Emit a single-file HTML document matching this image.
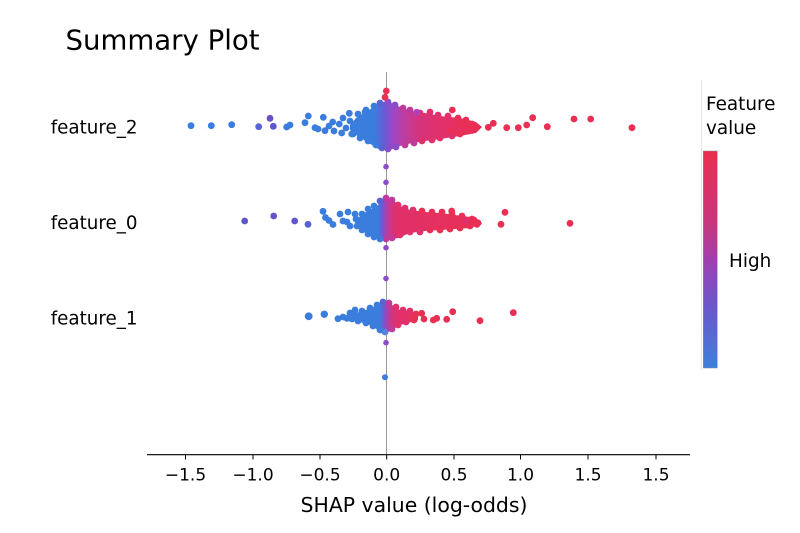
<!DOCTYPE html>
<html>
<head>
<meta charset="utf-8">
<style>
  html,body{margin:0;padding:0;background:#fff;}
  svg{display:block;}
  text{font-family:"DejaVu Sans","Liberation Sans",sans-serif;fill:#000;}
  .b{fill:#3b7ddd}
  .bp{fill:#5864d4}
  .p{fill:#8a4cc8}
  .m{fill:#c03a9c}
  .r{fill:#e0316c}
  .rr{fill:#ea2f54}
</style>
</head>
<body>
<svg width="800" height="533" viewBox="0 0 800 533" xmlns="http://www.w3.org/2000/svg">
  <defs>
    <linearGradient id="g1" gradientUnits="userSpaceOnUse" x1="330" y1="0" x2="490" y2="0">
      <stop offset="0" stop-color="#3b7ddd"/>
      <stop offset="0.28" stop-color="#3b7ddd"/>
      <stop offset="0.34" stop-color="#6a5ad6"/>
      <stop offset="0.39" stop-color="#9a48c8"/>
      <stop offset="0.45" stop-color="#b83ea8"/>
      <stop offset="0.55" stop-color="#d4347e"/>
      <stop offset="0.69" stop-color="#e2306a"/>
      <stop offset="1" stop-color="#ea2f55"/>
    </linearGradient>
    <linearGradient id="g2" gradientUnits="userSpaceOnUse" x1="355" y1="0" x2="485" y2="0">
      <stop offset="0" stop-color="#3b7ddd"/>
      <stop offset="0.177" stop-color="#3b7ddd"/>
      <stop offset="0.215" stop-color="#7a50d0"/>
      <stop offset="0.254" stop-color="#c03a9a"/>
      <stop offset="0.31" stop-color="#e0306a"/>
      <stop offset="1" stop-color="#ea2f55"/>
    </linearGradient>
    <linearGradient id="g3" gradientUnits="userSpaceOnUse" x1="350" y1="0" x2="420" y2="0">
      <stop offset="0" stop-color="#3b7ddd"/>
      <stop offset="0.43" stop-color="#3b7ddd"/>
      <stop offset="0.5" stop-color="#8a4cc8"/>
      <stop offset="0.59" stop-color="#d0357e"/>
      <stop offset="0.71" stop-color="#e3306a"/>
      <stop offset="1" stop-color="#ea2f55"/>
    </linearGradient>
    <linearGradient id="cb" x1="0" y1="0" x2="0" y2="1">
      <stop offset="0" stop-color="#ea2f4f"/>
      <stop offset="0.33" stop-color="#c8357c"/>
      <stop offset="0.5" stop-color="#a03fae"/>
      <stop offset="0.7" stop-color="#6e55c8"/>
      <stop offset="1" stop-color="#3e7fdc"/>
    </linearGradient>
  </defs>

  <!-- Title -->
  <text x="65.5" y="49.5" font-size="27.6">Summary Plot</text>

  <!-- zero line -->
  <line x1="386.5" y1="72" x2="386.5" y2="454" stroke="#999" stroke-width="1"/>

  <!-- Y labels -->
  <text x="137.5" y="133.5" font-size="18.3" text-anchor="end">feature_2</text>
  <text x="137.5" y="229" font-size="18.3" text-anchor="end">feature_0</text>
  <text x="137.5" y="324.5" font-size="18.3" text-anchor="end">feature_1</text>

  <!-- ===== Row feature_2 (cy=127) ===== -->
  <polygon fill="url(#g1)" points="350,125 356,118 364,113 372,108 378,104 386,101 394,104 402,108 412,111 425,113 440,116 460,118 476,122 482,127 476,133 460,136 440,139 425,141 412,143 400,146 390,150 380,150 372,145 364,140 356,135 350,130"/>
  <g>
    <!-- edge bumps -->
    <circle class="b" cx="358" cy="114" r="3.4"/>
    <circle class="b" cx="366" cy="110" r="3.4"/>
    <circle class="b" cx="374" cy="106" r="3.4"/>
    <circle class="bp" cx="380" cy="103" r="3.4"/>
    <circle class="p" cx="388" cy="102" r="3.4"/>
    <circle class="p" cx="395" cy="105" r="3.4"/>
    <circle class="m" cx="403" cy="108" r="3.4"/>
    <circle class="m" cx="410" cy="110" r="3.4"/>
    <circle class="r" cx="420" cy="113" r="3.4"/>
    <circle class="r" cx="430" cy="112" r="3.4"/>
    <circle class="r" cx="438" cy="115" r="3.4"/>
    <circle class="r" cx="448" cy="116" r="3.4"/>
    <circle class="rr" cx="458" cy="118" r="3.4"/>
    <circle class="rr" cx="466" cy="120" r="3.4"/>
    <circle class="rr" cx="472" cy="124" r="3.4"/>
    <circle class="rr" cx="476" cy="128" r="3.4"/>
    <circle class="rr" cx="468" cy="131" r="3.4"/>
    <circle class="rr" cx="460" cy="134" r="3.4"/>
    <circle class="r" cx="452" cy="136" r="3.4"/>
    <circle class="r" cx="440" cy="138" r="3.4"/>
    <circle class="r" cx="432" cy="140" r="3.4"/>
    <circle class="r" cx="422" cy="141" r="3.4"/>
    <circle class="m" cx="414" cy="143" r="3.4"/>
    <circle class="m" cx="405" cy="145" r="3.4"/>
    <circle class="p" cx="396" cy="147" r="3.4"/>
    <circle class="p" cx="388" cy="149" r="3.4"/>
    <circle class="bp" cx="382" cy="148" r="3.4"/>
    <circle class="b" cx="376" cy="145" r="3.4"/>
    <circle class="b" cx="368" cy="141" r="3.4"/>
    <circle class="b" cx="360" cy="138" r="3.4"/>
    <circle class="b" cx="353" cy="134" r="3.4"/>
    <circle class="b" cx="350" cy="121" r="3.4"/>
    <!-- left scattered -->
    <circle class="b" cx="191" cy="125.7" r="3.4"/>
    <circle class="b" cx="211.3" cy="125.7" r="3.4"/>
    <circle class="b" cx="231.7" cy="124.7" r="3.4"/>
    <circle class="bp" cx="258.7" cy="126.7" r="3.4"/>
    <circle fill="#6a4fc6" cx="270" cy="118.3" r="3.4"/>
    <circle fill="#5f58cc" cx="273.3" cy="126.3" r="3.4"/>
    <circle class="b" cx="286.7" cy="127" r="3.4"/>
    <circle class="b" cx="290" cy="125" r="3.4"/>
    <circle class="b" cx="305" cy="122.7" r="3.4"/>
    <circle class="b" cx="308.3" cy="116" r="3.4"/>
    <circle class="b" cx="315" cy="127.7" r="3.4"/>
    <circle class="b" cx="318" cy="129" r="3.4"/>
    <circle class="b" cx="323.3" cy="117.3" r="3.4"/>
    <circle class="b" cx="325" cy="130.7" r="3.4"/>
    <circle class="b" cx="329" cy="126" r="3.4"/>
    <circle class="b" cx="332.7" cy="122" r="3.4"/>
    <circle class="b" cx="334" cy="131" r="3.4"/>
    <circle class="b" cx="339.3" cy="124" r="3.4"/>
    <circle class="b" cx="341.7" cy="133" r="3.4"/>
    <circle class="b" cx="343" cy="118" r="3.4"/>
    <circle class="b" cx="346" cy="128" r="3.4"/>
    <circle class="b" cx="349.3" cy="113.3" r="3.4"/>
    <circle class="b" cx="351.7" cy="134" r="3.4"/>
    <circle class="b" cx="356" cy="124" r="3.4"/>
    <circle class="b" cx="365" cy="112" r="3.4"/>
    <!-- top above cluster -->
    <circle class="rr" cx="386.3" cy="91" r="3.4"/>
    <circle class="rr" cx="385" cy="97.3" r="3.4"/>
    <!-- right tail -->
    <circle fill="#b040c0" cx="416.7" cy="112.3" r="3.4"/>
    <circle class="rr" cx="452.3" cy="110" r="3.4"/>
    <circle class="rr" cx="451.7" cy="130.7" r="3.4"/>
    <circle class="rr" cx="460" cy="125" r="3.4"/>
    <circle class="rr" cx="468.3" cy="126.7" r="3.4"/>
    <circle class="rr" cx="488.3" cy="127.3" r="3.4"/>
    <circle class="rr" cx="493.3" cy="123.3" r="3.4"/>
    <circle class="rr" cx="506.7" cy="127.7" r="3.4"/>
    <circle class="rr" cx="518.3" cy="127.7" r="3.4"/>
    <circle class="rr" cx="526.7" cy="125" r="3.4"/>
    <circle class="rr" cx="532.7" cy="117.7" r="3.4"/>
    <circle class="rr" cx="547.3" cy="126.7" r="3.4"/>
    <circle class="rr" cx="574" cy="119" r="3.4"/>
    <circle class="rr" cx="590.7" cy="119" r="3.4"/>
    <circle class="rr" cx="632" cy="127.7" r="3.4"/>
    <!-- on-line singles -->
    <circle class="p" cx="386" cy="166.7" r="2.8"/>
    <circle class="p" cx="386" cy="182.3" r="2.8"/>
  </g>

  <!-- ===== Row feature_0 (cy=222) ===== -->
  <polygon fill="url(#g2)" points="355,222 362,214 370,210 378,205 382,199 388,197 394,201 400,206 410,210 425,212 440,213 455,215 470,217 480,220 482,224 470,228 455,229 440,230 425,231 410,233 398,238 388,240 378,240 370,236 362,231 356,227"/>
  <g>
    <circle class="b" cx="362" cy="214" r="3.4"/>
    <circle class="b" cx="368" cy="209" r="3.4"/>
    <circle class="b" cx="374" cy="206" r="3.4"/>
    <circle class="bp" cx="380" cy="201" r="3.4"/>
    <circle class="m" cx="386" cy="198" r="3.4"/>
    <circle class="m" cx="392" cy="200" r="3.4"/>
    <circle class="r" cx="398" cy="205" r="3.4"/>
    <circle class="r" cx="405" cy="208" r="3.4"/>
    <circle class="r" cx="413" cy="210" r="3.4"/>
    <circle class="rr" cx="422" cy="211" r="3.4"/>
    <circle class="rr" cx="432" cy="212" r="3.4"/>
    <circle class="rr" cx="442" cy="212" r="3.4"/>
    <circle class="rr" cx="452" cy="214" r="3.4"/>
    <circle class="rr" cx="462" cy="216" r="3.4"/>
    <circle class="rr" cx="472" cy="219" r="3.4"/>
    <circle class="rr" cx="478" cy="223" r="3.4"/>
    <circle class="rr" cx="470" cy="226" r="3.4"/>
    <circle class="rr" cx="460" cy="228" r="3.4"/>
    <circle class="rr" cx="450" cy="229" r="3.4"/>
    <circle class="rr" cx="440" cy="230" r="3.4"/>
    <circle class="rr" cx="430" cy="230" r="3.4"/>
    <circle class="r" cx="420" cy="232" r="3.4"/>
    <circle class="r" cx="410" cy="232" r="3.4"/>
    <circle class="r" cx="400" cy="235" r="3.4"/>
    <circle class="m" cx="392" cy="238" r="3.4"/>
    <circle class="m" cx="386" cy="239" r="3.4"/>
    <circle class="b" cx="380" cy="239" r="3.4"/>
    <circle class="b" cx="374" cy="237" r="3.4"/>
    <circle class="b" cx="368" cy="234" r="3.4"/>
    <circle class="b" cx="362" cy="230" r="3.4"/>
    <circle class="b" cx="357" cy="226" r="3.4"/>
    <circle class="b" cx="356" cy="219" r="3.4"/>
    <!-- left tail -->
    <circle fill="#5a56cc" cx="244.7" cy="221" r="3.4"/>
    <circle fill="#6652c8" cx="273.7" cy="216" r="3.4"/>
    <circle fill="#5f55cc" cx="294.7" cy="221" r="3.4"/>
    <circle fill="#5560d2" cx="308" cy="224.3" r="3.4"/>
    <circle class="b" cx="323" cy="211.3" r="3.4"/>
    <circle class="b" cx="325.5" cy="217.5" r="3.4"/>
    <circle class="b" cx="329" cy="220.5" r="3.4"/>
    <circle class="b" cx="333" cy="224.5" r="3.4"/>
    <circle class="b" cx="340" cy="214" r="3.4"/>
    <circle class="b" cx="343" cy="221" r="3.4"/>
    <circle class="b" cx="347" cy="222" r="3.4"/>
    <circle class="b" cx="348" cy="212" r="3.4"/>
    <circle class="b" cx="350" cy="226" r="3.4"/>
    <circle class="b" cx="355" cy="214" r="3.4"/>
    <!-- right tail -->
    <circle class="rr" cx="451.7" cy="211" r="3.4"/>
    <circle class="r" cx="466" cy="221" r="3.4"/>
    <circle class="rr" cx="474" cy="220" r="3.4"/>
    <circle class="rr" cx="477" cy="224.3" r="3.4"/>
    <circle class="rr" cx="505" cy="212.3" r="3.4"/>
    <circle class="rr" cx="501" cy="224.3" r="3.4"/>
    <circle class="rr" cx="570" cy="223.3" r="3.4"/>
    <!-- on-line singles -->
    <circle class="p" cx="386" cy="247.7" r="2.8"/>
    <circle class="p" cx="386" cy="278.5" r="2.8"/>
  </g>

  <!-- ===== Row feature_1 (cy=318) ===== -->
  <polygon fill="url(#g3)" points="352,316 360,311 370,309 378,304 385,301 392,305 400,310 410,311 418,314 418,320 408,323 400,325 392,330 385,334 378,330 370,325 360,322 352,320"/>
  <g>
    <circle class="b" cx="355" cy="315" r="3.4"/>
    <circle class="b" cx="362" cy="311" r="3.4"/>
    <circle class="b" cx="370" cy="308" r="3.4"/>
    <circle class="b" cx="377" cy="305" r="3.4"/>
    <circle class="bp" cx="383" cy="302" r="3.4"/>
    <circle class="m" cx="389" cy="303" r="3.4"/>
    <circle class="r" cx="396" cy="307" r="3.4"/>
    <circle class="r" cx="403" cy="310" r="3.4"/>
    <circle class="r" cx="410" cy="311" r="3.4"/>
    <circle class="rr" cx="416" cy="314" r="3.4"/>
    <circle class="rr" cx="414" cy="320" r="3.4"/>
    <circle class="r" cx="406" cy="322" r="3.4"/>
    <circle class="r" cx="398" cy="325" r="3.4"/>
    <circle class="m" cx="392" cy="329" r="3.4"/>
    <circle fill="#5a80e0" cx="385" cy="332" r="3.4"/>
    <circle class="b" cx="380" cy="330" r="3.4"/>
    <circle class="b" cx="373" cy="326" r="3.4"/>
    <circle class="b" cx="366" cy="323" r="3.4"/>
    <circle class="b" cx="358" cy="321" r="3.4"/>
    <circle class="b" cx="352" cy="319" r="3.4"/>
    <!-- left tail -->
    <circle class="b" cx="308.7" cy="316.3" r="3.9"/>
    <circle class="b" cx="324.3" cy="314.3" r="3.7"/>
    <circle class="b" cx="338" cy="318.7" r="3.4"/>
    <circle class="b" cx="343" cy="317" r="3.4"/>
    <circle class="b" cx="347" cy="318.3" r="3.4"/>
    <circle class="b" cx="350" cy="313" r="3.4"/>
    <circle class="b" cx="355" cy="310" r="3.4"/>
    <circle class="b" cx="362" cy="314" r="3.4"/>
    <!-- right tail -->
    <circle class="rr" cx="421.7" cy="313.3" r="3.4"/>
    <circle class="rr" cx="424" cy="319" r="3.4"/>
    <circle class="rr" cx="433.3" cy="320" r="3.4"/>
    <circle class="rr" cx="436.7" cy="318.3" r="3.4"/>
    <circle class="rr" cx="446.7" cy="319.3" r="3.4"/>
    <circle class="rr" cx="452.7" cy="311.7" r="3.4"/>
    <circle class="rr" cx="480" cy="320.7" r="3.4"/>
    <circle class="rr" cx="513.3" cy="312.7" r="3.4"/>
    <!-- on-line singles -->
    <circle class="p" cx="386" cy="342.7" r="2.8"/>
    <circle class="b" cx="385" cy="377.3" r="3"/>
  </g>

  <!-- X axis -->
  <line x1="147" y1="454.7" x2="690" y2="454.7" stroke="#000" stroke-width="1.1"/>
  <g stroke="#000" stroke-width="1">
    <line x1="185.5" y1="455" x2="185.5" y2="459.5"/>
    <line x1="253" y1="455" x2="253" y2="459.5"/>
    <line x1="320" y1="455" x2="320" y2="459.5"/>
    <line x1="386.7" y1="455" x2="386.7" y2="459.5"/>
    <line x1="454" y1="455" x2="454" y2="459.5"/>
    <line x1="520.5" y1="455" x2="520.5" y2="459.5"/>
    <line x1="588" y1="455" x2="588" y2="459.5"/>
    <line x1="656" y1="455" x2="656" y2="459.5"/>
  </g>
  <g font-size="17" text-anchor="middle">
    <text x="185.5" y="480.5">−1.5</text>
    <text x="253" y="480.5">−1.0</text>
    <text x="320" y="480.5">−0.5</text>
    <text x="386.7" y="480.5">0.0</text>
    <text x="454" y="480.5">0.5</text>
    <text x="520.5" y="480.5">1.0</text>
    <text x="588" y="480.5">1.5</text>
    <text x="656" y="480.5">1.5</text>
  </g>
  <text x="414" y="512" font-size="20.4" text-anchor="middle">SHAP value (log-odds)</text>

  <!-- Colorbar -->
  <line x1="701.5" y1="80" x2="701.5" y2="370" stroke="#e4e4e4" stroke-width="1"/>
  <rect x="703.3" y="151" width="14" height="217" fill="url(#cb)" stroke="#8a8a8a" stroke-width="0.5"/>
  <text x="706" y="110" font-size="18.4">Feature</text>
  <text x="706" y="134" font-size="18.4">value</text>
  <text x="729" y="267" font-size="18.4">High</text>
</svg>
</body>
</html>
